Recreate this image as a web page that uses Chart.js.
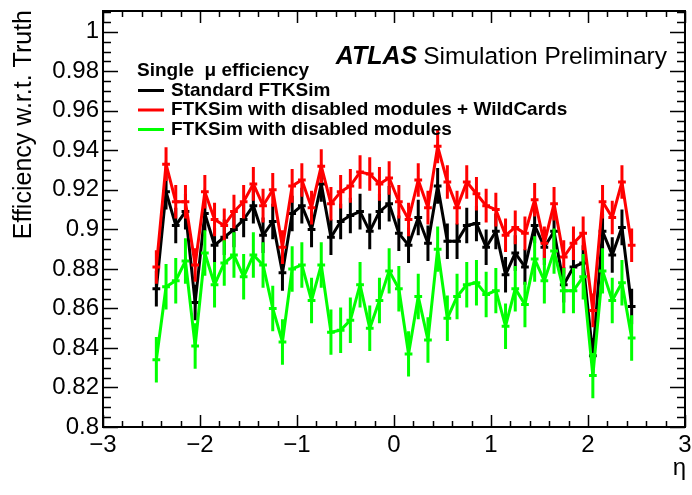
<!DOCTYPE html>
<html>
<head>
<meta charset="utf-8">
<script src="https://cdn.jsdelivr.net/npm/chart.js@4.4.1/dist/chart.umd.min.js"></script>
<style>
  html, body { margin: 0; padding: 0; background: #fff; }
  #wrap { width: 692px; height: 495px; }
</style>
</head>
<body>
<div id="wrap"><canvas id="chart" width="692" height="495"></canvas></div>
<script>
// eta bin centres (50 bins of 0.1 from -2.5 to 2.5)
const etaBins = [
    -2.45, -2.35, -2.25, -2.15, -2.05, -1.95, -1.85, -1.75, -1.65, -1.55,
    -1.45, -1.35, -1.25, -1.15, -1.05, -0.95, -0.85, -0.75, -0.65, -0.55,
    -0.45, -0.35, -0.25, -0.15, -0.05, 0.05, 0.15, 0.25, 0.35, 0.45,
    0.55, 0.65, 0.75, 0.85, 0.95, 1.05, 1.15, 1.25, 1.35, 1.45,
    1.55, 1.65, 1.75, 1.85, 1.95, 2.05, 2.15, 2.25, 2.35, 2.45
];

const standardEff = [
    0.870, 0.919, 0.902, 0.909, 0.863, 0.908, 0.892, 0.896, 0.900, 0.905,
    0.912, 0.897, 0.904, 0.878, 0.908, 0.912, 0.900, 0.923, 0.896, 0.904,
    0.907, 0.909, 0.899, 0.909, 0.913, 0.898, 0.892, 0.906, 0.893, 0.922,
    0.894, 0.894, 0.902, 0.903, 0.891, 0.899, 0.877, 0.888, 0.881, 0.902,
    0.891, 0.899, 0.872, 0.881, 0.883, 0.836, 0.899, 0.887, 0.901, 0.861
];

const wildcardEff = [
    0.881, 0.933, 0.914, 0.914, 0.882, 0.919, 0.905, 0.902, 0.909, 0.914,
    0.923, 0.912, 0.920, 0.891, 0.922, 0.925, 0.911, 0.932, 0.913, 0.919,
    0.922, 0.929, 0.928, 0.923, 0.926, 0.914, 0.905, 0.925, 0.911, 0.942,
    0.924, 0.911, 0.924, 0.918, 0.912, 0.910, 0.897, 0.901, 0.898, 0.915,
    0.893, 0.913, 0.886, 0.893, 0.898, 0.859, 0.914, 0.906, 0.924, 0.892
];

const disabledEff = [
    0.834, 0.871, 0.874, 0.884, 0.841, 0.888, 0.872, 0.883, 0.887, 0.876,
    0.887, 0.882, 0.860, 0.843, 0.880, 0.882, 0.864, 0.882, 0.848, 0.849,
    0.854, 0.872, 0.850, 0.864, 0.879, 0.870, 0.837, 0.866, 0.844, 0.890,
    0.855, 0.866, 0.872, 0.873, 0.867, 0.869, 0.851, 0.870, 0.862, 0.885,
    0.874, 0.889, 0.869, 0.869, 0.876, 0.826, 0.879, 0.864, 0.873, 0.845
];

// statistical errors, roughly constant per sample
const standardErr = 0.009;
const wildcardErr = 0.0085;
const disabledErr = 0.0115;

const xTicks = [-3, -2, -1, 0, 1, 2, 3];
const yTicks = [0.8, 0.82, 0.84, 0.86, 0.88, 0.9, 0.92, 0.94, 0.96, 0.98, 1];

const seriesNames = ['Standard FTKSim', 'FTKSim with disabled modules + WildCards', 'FTKSim with disabled modules'];
const legendHeader = 'Single  \u03bc efficiency';

const FONT = '"Liberation Sans", Arial, Helvetica, sans-serif';

function toPoints(values) {
    return etaBins.map((x, i) => ({ x: x, y: values[i] }));
}

function makeSet(label, values, err, color, order) {
    return {
        label: label,
        data: toPoints(values),
        errs: values.map(() => err),
        showLine: true,
        borderColor: color,
        backgroundColor: color,
        borderWidth: 3,
        pointRadius: 0,
        pointHoverRadius: 0,
        tension: 0,
        order: order
    };
}

// ROOT-like frame with inward ticks on all four sides
const framePlugin = {
    id: 'frame',
    afterDraw(chart) {
        const { ctx, chartArea: a, scales } = chart;
        const xs = scales.x, ys = scales.y;
        ctx.save();
        ctx.strokeStyle = '#000';
        ctx.lineWidth = 2;
        ctx.strokeRect(a.left, a.top, a.right - a.left, a.bottom - a.top);
        ctx.lineWidth = 1.5;
        ctx.beginPath();
        for (let v = -3; v <= 3.0001; v += 0.2) {
            const px = Math.round(xs.getPixelForValue(v)) + 0.5;
            const major = Math.abs(v - Math.round(v)) < 1e-6;
            const len = major ? 12 : 6;
            ctx.moveTo(px, a.bottom); ctx.lineTo(px, a.bottom - len);
            ctx.moveTo(px, a.top); ctx.lineTo(px, a.top + len);
        }
        for (let k = 0; k <= 42; k++) {
            const v = 0.8 + k * 0.005;
            if (v > ys.max) break;
            const py = Math.round(ys.getPixelForValue(v)) + 0.5;
            const len = k % 4 === 0 ? 15 : 8;
            ctx.moveTo(a.left, py); ctx.lineTo(a.left + len, py);
            ctx.moveTo(a.right, py); ctx.lineTo(a.right - len, py);
        }
        ctx.stroke();

        // axis titles
        ctx.fillStyle = '#000';
        ctx.font = '24px ' + FONT;
        ctx.textAlign = 'right';
        ctx.textBaseline = 'bottom';
        ctx.fillText('\u03b7', 686, 480);
        ctx.save();
        ctx.translate(24, 10);
        ctx.rotate(-Math.PI / 2);
        ctx.font = '25px ' + FONT;
        ctx.textAlign = 'right';
        ctx.textBaseline = 'middle';
        ctx.fillText('Efficiency w.r.t. Truth', 0, 0);
        ctx.restore();

        // ATLAS label
        ctx.textBaseline = 'alphabetic';
        ctx.textAlign = 'right';
        ctx.font = '24.5px ' + FONT;
        ctx.fillText('Simulation Preliminary', 667, 64);
        const simW = ctx.measureText('Simulation Preliminary').width;
        ctx.font = 'italic bold 25px ' + FONT;
        ctx.fillText('ATLAS', 667 - simW - 6, 64);

        // legend
        const colors = ['#000000', '#ff0000', '#00ff00'];
        ctx.textAlign = 'left';
        ctx.textBaseline = 'middle';
        ctx.font = 'bold 19px ' + FONT;
        ctx.fillText(legendHeader, 137, 71);
        seriesNames.forEach((name, i) => {
            const y = 90.5 + i * 19.5;
            ctx.strokeStyle = colors[i];
            ctx.lineWidth = 3;
            ctx.beginPath();
            ctx.moveTo(138, y); ctx.lineTo(164, y);
            ctx.stroke();
            ctx.fillText(name, 171, y);
        });
        ctx.restore();
    }
};

// vertical error bars and small horizontal bin ticks, drawn with each line
const errorBarPlugin = {
    id: 'errorBars',
    afterDatasetDraw(chart, args) {
        const ds = chart.data.datasets[args.index];
        const { ctx, scales } = chart;
        const xs = scales.x, ys = scales.y;
        ctx.save();
        ctx.strokeStyle = ds.borderColor;
        ctx.lineWidth = 3;
        ctx.beginPath();
        ds.data.forEach((p, i) => {
            const px = xs.getPixelForValue(p.x);
            const py = ys.getPixelForValue(p.y);
            const e = ds.errs[i];
            ctx.moveTo(px, ys.getPixelForValue(p.y + e));
            ctx.lineTo(px, ys.getPixelForValue(p.y - e));
            ctx.moveTo(xs.getPixelForValue(p.x - 0.04), py);
            ctx.lineTo(xs.getPixelForValue(p.x + 0.04), py);
        });
        ctx.stroke();
        ctx.restore();
    }
};

const ctx = document.getElementById('chart').getContext('2d');
const chart = new Chart(ctx, {
    type: 'scatter',
    data: {
        datasets: [
            makeSet(seriesNames[0], standardEff, standardErr, '#000000', 3),
            makeSet(seriesNames[1], wildcardEff, wildcardErr, '#ff0000', 2),
            makeSet(seriesNames[2], disabledEff, disabledErr, '#00ff00', 1)
        ]
    },
    options: {
        responsive: false,
        animation: false,
        layout: { padding: { left: 0, right: 7, top: 11, bottom: 0 } },
        plugins: {
            legend: { display: false },
            tooltip: { enabled: false }
        },
        scales: {
            x: {
                type: 'linear',
                min: -3,
                max: 3,
                grid: { display: false, drawTicks: false },
                border: { display: false },
                afterBuildTicks: scale => { scale.ticks = xTicks.map(v => ({ value: v })); },
                afterFit: scale => {
                    scale.height = 68;
                    scale.paddingRight = 0;
                },
                ticks: {
                    color: '#000',
                    padding: 4,
                    maxRotation: 0,
                    autoSkip: false,
                    font: { family: FONT, size: 24 },
                    callback: v => (v < 0 ? '\u2212' + Math.abs(v) : String(v))
                }
            },
            y: {
                type: 'linear',
                min: 0.8,
                max: 1.0105,
                grid: { display: false, drawTicks: false },
                border: { display: false },
                afterBuildTicks: scale => { scale.ticks = yTicks.map(v => ({ value: v })); },
                afterFit: scale => {
                    scale.width = 103;
                    scale.paddingTop = 0;
                    scale.paddingBottom = 0;
                },
                ticks: {
                    color: '#000',
                    padding: 4,
                    autoSkip: false,
                    font: { family: FONT, size: 24 },
                    callback: v => String(+v.toFixed(2))
                }
            }
        }
    },
    plugins: [errorBarPlugin, framePlugin]
});
</script>
</body>
</html>
